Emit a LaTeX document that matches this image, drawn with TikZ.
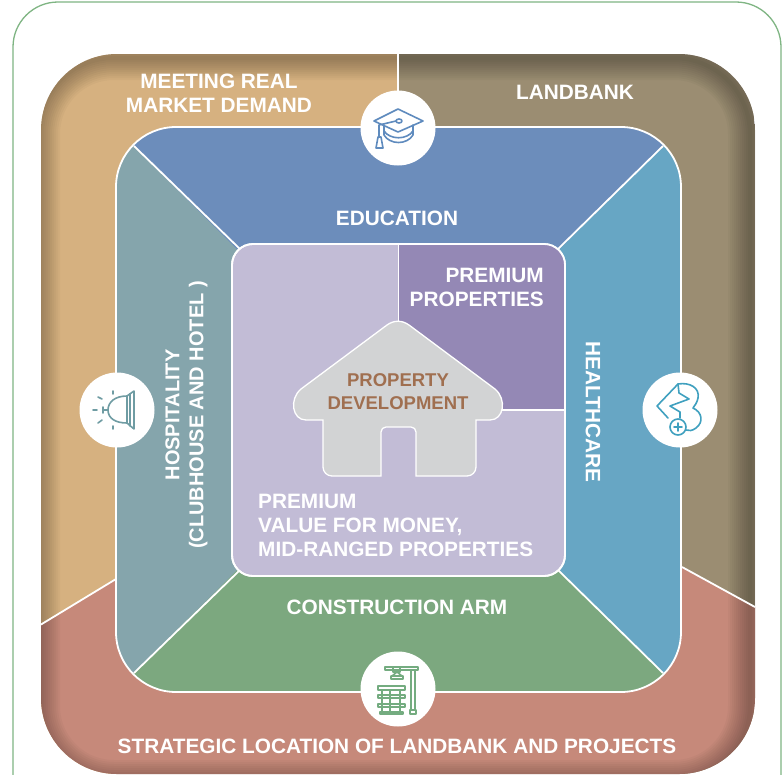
\documentclass[tikz,border=0pt]{standalone}
\usepackage{fontspec}
\setmainfont{Liberation Sans}
\definecolor{frame}{HTML}{7FB583}
\definecolor{demand}{HTML}{D6B180}
\definecolor{landbank}{HTML}{9B8D72}
\definecolor{location}{HTML}{C6897A}
\definecolor{education}{HTML}{6C8DBB}
\definecolor{healthcare}{HTML}{67A6C4}
\definecolor{construction}{HTML}{7CA87F}
\definecolor{hospitality}{HTML}{85A5AC}
\definecolor{midrange}{HTML}{C2BCD6}
\definecolor{premium}{HTML}{9488B5}
\definecolor{house}{HTML}{D2D3D4}
\definecolor{housetext}{HTML}{A06F50}
\definecolor{hospicon}{HTML}{6F9CA3}
\definecolor{healthicon}{HTML}{3FA0BF}
\definecolor{cranicon}{HTML}{74AC80}
\definecolor{capicon}{HTML}{5F8BBE}
\tikzset{
    divider/.style={white,line width=1.8},
    label/.style={white,font=\bfseries\fontsize{20.8}{24}\selectfont,inner sep=0pt},
    badge/.style={circle,fill=white,minimum size=75,inner sep=0pt},
    iconline/.style={line width=1.6,line cap=round,line join=round}
}

\begin{document}
\begin{tikzpicture}[x=1pt,y=-1pt]
        \useasboundingbox (0,0) rectangle (784,774);
        \clip (0,0) rectangle (784,774);
        \fill[white] (0,0) rectangle (784,774);
        \draw[frame,line width=1.3,rounded corners=45] (13,2) rectangle (781,820);

        \begin{scope}
            \clip[rounded corners=76] (41,54) rectangle (755,774);
            \fill[demand] (41,54) rectangle (398,774);
            \fill[landbank] (398,54) rectangle (755,774);
            \fill[location] (41,624.5) -- (116,579) -- (682,567) -- (755,607) -- (755,774) -- (41,774) -- cycle;
            \foreach \w in {4,8,...,44}
                \draw[black,opacity=0.026,line width=\w,rounded corners=76] (38,58) rectangle (750,782);
            \draw[divider] (398,54) -- (398,127);
            \draw[divider] (41,624.5) -- (116,579);
            \draw[divider] (682,567) -- (755,607);
        \end{scope}

        \begin{scope}
            \clip[rounded corners=60] (116,127) rectangle (681,692);
            \fill[hospitality] (116,127) rectangle (398,692);
            \fill[healthcare] (398,127) rectangle (681,692);
            \fill[education] (116,127) -- (681,127) -- (663,146) -- (398,410) -- (134,146) -- cycle;
            \fill[construction] (116,692) -- (681,692) -- (663,673) -- (398,410) -- (134,673) -- cycle;
            \draw[divider] (134,146) -- (242,251);
            \draw[divider] (663,146) -- (556,251);
            \draw[divider] (663,673) -- (556,568);
            \draw[divider] (134,673) -- (242,568);
        \end{scope}
        \draw[divider,rounded corners=60] (116,127) rectangle (681,692);

        \draw[divider,fill=midrange,rounded corners=21] (232,244) rectangle (565,576);
        \begin{scope}
            \clip[rounded corners=21] (232,244) rectangle (565,576);
            \fill[premium] (398.5,244) rectangle (565,410);
            \draw[divider] (398.5,244) -- (398.5,321);
            \draw[divider] (398.5,410) -- (565,410);
        \end{scope}
        \draw[divider,rounded corners=21] (232,244) rectangle (565,576);

        \draw[white,line width=1.3,fill=house] (387,325) .. controls (394,320) and (402,320) .. (409,325)
            -- (495,389) .. controls (507,399) and (504,420) .. (490,420) -- (476,420)
            [rounded corners=9] -- (476,476) [sharp corners] -- (416,476)
            [rounded corners=5] -- (416,427) -- (381,427) [sharp corners] -- (381,476)
            [rounded corners=9] -- (323,476) [sharp corners] -- (323,420) -- (306,420)
            .. controls (292,420) and (289,399) .. (301,389) -- cycle;

        \node[badge] (edubadge) at (398,128) {};
        \node[badge] (hospbadge) at (117,410) {};
        \node[badge] (healthbadge) at (680,410) {};
        \node[badge] (crabadge) at (398,689) {};

        \draw[capicon,iconline] (398,109) -- (374,121) -- (398,132) -- (423,121) -- cycle;
        \draw[capicon,iconline] (399,121) ellipse[x radius=3,y radius=2];
        \draw[capicon,iconline] (396,121) -- (379,125) -- (379,137);
        \draw[capicon,iconline] (378,137) -- (381,137) -- (383,148) -- (376,148) -- cycle;
        \draw[capicon,iconline] (384,125) -- (384,135) .. controls (390,145) and (407,145) .. (413,135) -- (413,125);
        \draw[capicon,iconline] (384,131) .. controls (390,140) and (407,140) .. (413,131);

        \draw[hospicon,iconline] (127,396) .. controls (115,396) and (108,402) .. (108,410) .. controls (108,418) and (115,423) .. (127,423);
        \draw[hospicon,iconline] (127,396) -- (134,391) -- (134,429) -- (127,423) -- cycle;
        \draw[hospicon,iconline] (103,410) -- (108,410) (103,407) -- (103,413) (130,394) -- (130,426);
        \draw[hospicon,iconline] (93,410) -- (97,410) (98,397) -- (102,399) (113,391) -- (113,394) (98,423) -- (102,420) (113,426) -- (113,429);

        \draw[healthicon,iconline] (668,418) -- (657,406) -- (678,384) .. controls (690,382) and (700,388) .. (698,398)
            .. controls (697,403) and (695,405) .. (693,408) .. controls (702,412) and (704,422) .. (696,428) .. controls (692,431) and (689,431) .. (686,430);
        \draw[healthicon,iconline] (678,384) -- (679,393) -- (689,399) -- (670,406) -- (680,412) -- (680,418);
        \draw[healthicon,iconline] (678,427) circle[radius=8];
        \draw[healthicon,iconline] (674,427) -- (682,427) (678,423) -- (678,431);

        \draw[cranicon,iconline] (385,667) rectangle (418,670);
        \draw[cranicon,iconline] (393,667) -- (393,672) -- (400,672) -- (400,667);
        \draw[cranicon,iconline] (391,679) rectangle (403,676) (397,672) -- (392,676) (397,672) -- (402,676);
        \draw[cranicon,iconline] (411,670) -- (411,710) (415,670) -- (415,710) (410,710) rectangle (416,714);
        \draw[cranicon,iconline] (378,686) rectangle (405,690);
        \draw[cranicon,iconline] (378,695) rectangle (405,698);
        \draw[cranicon,iconline] (378,704) rectangle (405,707);
        \draw[cranicon,iconline] (380,712) rectangle (403,714);
        \foreach \col in {382,390,400}
            \draw[cranicon,iconline] (\col,690) -- (\col,712);

        \node[label,align=center] (demandtext) at (219,93) {MEETING REAL\\MARKET DEMAND};
        \node[label] (landtext) at (575,92) {LANDBANK};
        \node[label] (edutext) at (397,218) {EDUCATION};
        \node[label,align=right,anchor=east] (premtext) at (544,287) {PREMIUM\\PROPERTIES};
        \node[label,align=center,text=housetext,font=\bfseries\fontsize{18.5}{23}\selectfont] (housetext) at (398,391.5) {PROPERTY\\DEVELOPMENT};
        \node[label,align=center,rotate=90,font=\bfseries\fontsize{20}{24}\selectfont] (hosptext) at (186.5,415) {HOSPITALITY\\(CLUBHOUSE AND HOTEL )};
        \node[label,rotate=-90] (healthtext) at (593,412) {HEALTHCARE};
        \node[label] (cratext) at (397,607) {CONSTRUCTION ARM};
        \node[label,align=left,anchor=west] (midtext) at (258,525) {PREMIUM\\VALUE FOR MONEY,\\MID-RANGED PROPERTIES};
        \node[label] (loctext) at (397,746) {STRATEGIC LOCATION OF LANDBANK AND PROJECTS};
    \end{tikzpicture}
\end{document}
